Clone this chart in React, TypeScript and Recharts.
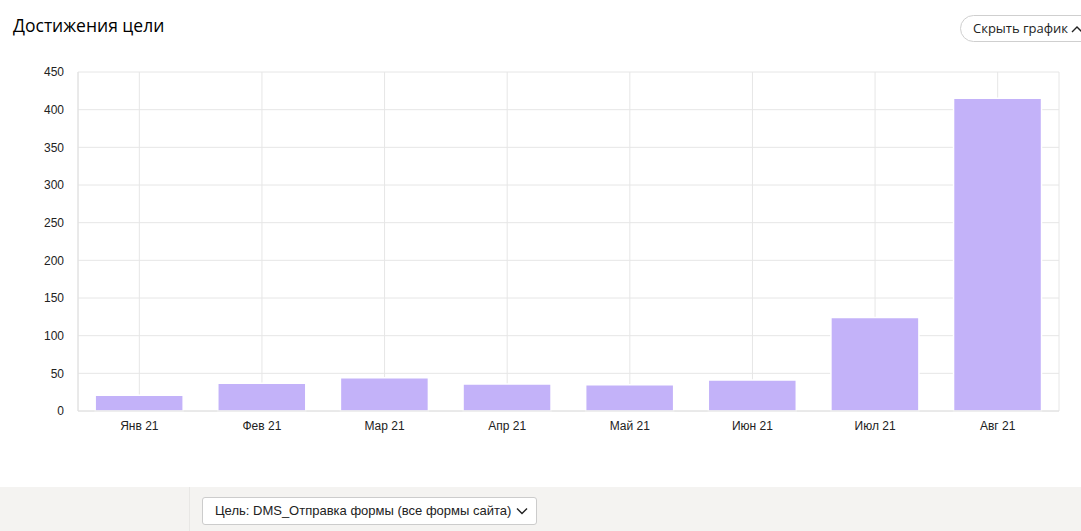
import { BarChart, Bar, XAxis, YAxis, CartesianGrid } from "recharts"

// месяцы и достижения цели
const months = ["Янв 21", "Фев 21", "Мар 21", "Апр 21", "Май 21", "Июн 21", "Июл 21", "Авг 21"]
const goals = [21, 37, 44, 36, 35, 41, 124, 415]
const yTicks = [0, 50, 100, 150, 200, 250, 300, 350, 400, 450]

const data = months.map((m, i) => ({ name: m, value: goals[i] }))

const tickStyle = { fill: "#222", fontSize: 12, fontFamily: "'Liberation Sans', Arial, sans-serif" }

export default function App() {
    return (
        <div style={{
            position: "absolute", left: 0, top: 0, width: 1081, height: 531,
            background: "#fff", overflow: "hidden", fontFamily: "'Liberation Sans', Arial, sans-serif"
        }}>
            <div style={{
                position: "absolute", left: 13, top: 13, fontSize: 17.5, color: "#000",
                fontFamily: "'Open Sans', 'Noto Sans', sans-serif"
            }}>
                Достижения цели
            </div>
            <div style={{
                position: "absolute", left: 960, top: 15, width: 140, height: 27,
                border: "1px solid #cfcfcf", borderRadius: 14, boxSizing: "border-box",
                fontSize: 13, color: "#222", lineHeight: "25px", paddingLeft: 12,
                fontFamily: "'Open Sans', 'Noto Sans', sans-serif"
            }}>
                Скрыть график
                <svg width="12" height="8" style={{ marginLeft: 3 }}>
                    <path d="M1 7 L6 2 L11 7" stroke="#222" strokeWidth="1.4" fill="none" />
                </svg>
            </div>

            <div style={{ position: "absolute", left: 0, top: 0 }}>
                <BarChart
                    width={1081}
                    height={451}
                    data={data}
                    margin={{ top: 72, right: 22, bottom: 10, left: 0 }}
                    barCategoryGap="14%"
                >
                    <CartesianGrid stroke="#e6e6e6" strokeWidth={1} />
                    <XAxis
                        dataKey="name"
                        height={30}
                        tickLine={false}
                        tickSize={0}
                        tickMargin={10}
                        tick={tickStyle}
                        axisLine={{ stroke: "#e0e0e0" }}
                    />
                    <YAxis
                        width={78}
                        domain={[0, 450]}
                        ticks={yTicks}
                        interval={0}
                        tickLine={false}
                        tickSize={0}
                        tickMargin={14}
                        tick={tickStyle}
                        axisLine={{ stroke: "#e0e0e0" }}
                    />
                    <YAxis
                        yAxisId="right"
                        orientation="right"
                        width={0}
                        domain={[0, 450]}
                        tick={false}
                        tickLine={false}
                        axisLine={{ stroke: "#e0e0e0" }}
                    />
                    <Bar
                        dataKey="value"
                        fill="#c3b2f9"
                        stroke="#fff"
                        strokeWidth={1.5}
                        isAnimationActive={false}
                    />
                </BarChart>
            </div>

            <div style={{
                position: "absolute", left: 0, top: 487, width: 1081, height: 44,
                background: "#f4f3f1"
            }}>
                <div style={{ position: "absolute", left: 189, top: 0, width: 1, height: 44, background: "#e8e7e5" }} />
                <div style={{
                    position: "absolute", left: 202, top: 10, width: 335, height: 28,
                    background: "#fff", border: "1px solid #cccccc", borderRadius: 3,
                    boxSizing: "border-box", fontSize: 13, color: "#222",
                    lineHeight: "26px", paddingLeft: 12
                }}>
                    Цель: DMS_Отправка формы (все формы сайта)
                    <svg width="12" height="8" style={{ marginLeft: 5 }}>
                        <path d="M1 1.5 L6 6.5 L11 1.5" stroke="#222" strokeWidth="1.4" fill="none" />
                    </svg>
                </div>
            </div>
        </div>
    )
}
